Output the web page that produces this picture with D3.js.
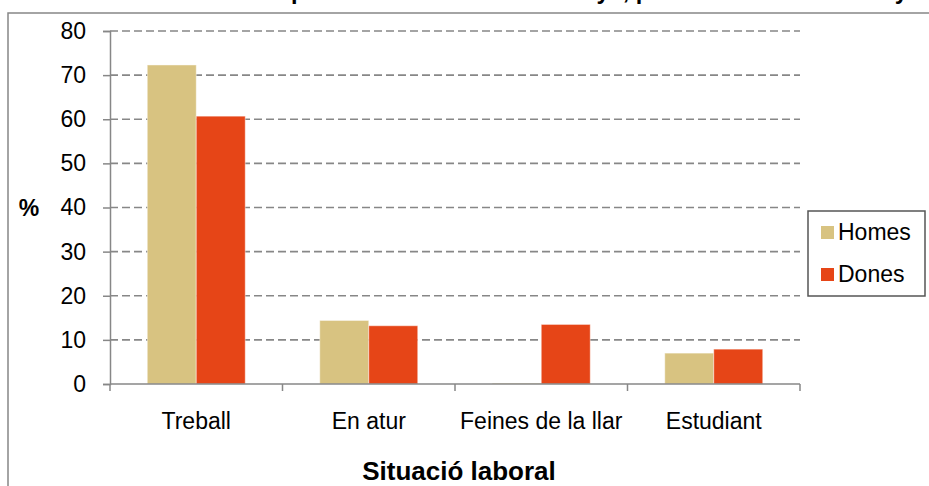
<!DOCTYPE html>
<html>
<head>
<meta charset="utf-8">
<script src="https://cdn.jsdelivr.net/npm/d3@7"></script>
<style>
  html, body { margin: 0; padding: 0; background: #fff; }
  svg { display: block; font-family: "Liberation Sans", Arial, sans-serif; }
</style>
</head>
<body>
<svg id="chart" width="929" height="486"></svg>
<script>
const titleText = "Distribució de la població total de 16 a 64 anys, per situació laboral. Any 2006";
const categories = ["Treball", "En atur", "Feines de la llar", "Estudiant"];
const seriesNames = ["Homes", "Dones"];
const homes = [72.3, 14.4, 0.2, 7.0];
const dones = [60.7, 13.2, 13.5, 7.9];
const yTicks = [0, 10, 20, 30, 40, 50, 60, 70, 80];
const xTitle = "Situació laboral";
const yTitle = "%";
const colors = ["#D8C381", "#E64517"];

const svg = d3.select("#chart");
const gray = "#878787";

// outer frame (right/bottom run off the picture)
svg.append("path")
  .attr("d", "M8,490 L8,13 L935,13")
  .attr("fill", "none").attr("stroke", gray).attr("stroke-width", 1.5);

// clipped title (only descenders visible)
const title = svg.append("text")
  .attr("y", -1.2)
  .attr("font-size", 23.5).attr("font-weight", "bold").attr("fill", "#000")
  .text(titleText);
try {
  const node = title.node();
  title.attr("x", 0);
  const idx = titleText.indexOf("població");
  const px = node.getStartPositionOfChar(idx).x;
  title.attr("x", 291 - px);
} catch (e) {
  title.attr("x", 0);
}

const x0 = d3.scaleBand().domain(categories).range([110, 800])
  .paddingInner(0.432).paddingOuter(0.216);
const x1 = d3.scaleBand().domain(seriesNames).range([0, x0.bandwidth()]);
const y = d3.scaleLinear().domain([0, 80]).range([384, 31]);

// gridlines
svg.append("g").selectAll("line")
  .data(yTicks.filter(d => d > 0))
  .join("line")
  .attr("x1", 110).attr("x2", 800)
  .attr("y1", d => y(d)).attr("y2", d => y(d))
  .attr("stroke", gray).attr("stroke-width", 1.6)
  .attr("stroke-dasharray", "8,4");

// bars
const data = categories.map((c, i) => ({cat: c, vals: [homes[i], dones[i]]}));
const groups = svg.append("g").selectAll("g")
  .data(data).join("g")
  .attr("transform", d => `translate(${x0(d.cat)},0)`);
groups.selectAll("rect")
  .data(d => d.vals.map((v, j) => ({name: seriesNames[j], v, j})))
  .join("rect")
  .attr("x", d => x1(d.name))
  .attr("width", x1.bandwidth())
  .attr("y", d => y(d.v))
  .attr("height", d => y(0) - y(d.v))
  .attr("fill", d => colors[d.j])
  .attr("stroke", "#ffffff").attr("stroke-opacity", 0.45).attr("stroke-width", 1);

// y axis
const yAxis = d3.axisLeft(y).tickValues(yTicks).tickSize(7).tickPadding(17);
const gy = svg.append("g").attr("transform", "translate(110,0)").call(yAxis);
gy.select(".domain").attr("stroke", gray).attr("stroke-width", 1.5);
gy.selectAll(".tick line").attr("stroke", gray).attr("stroke-width", 1.5);
gy.selectAll(".tick text").attr("font-size", 23).attr("fill", "#000")
  .attr("font-family", "Liberation Sans, Arial, sans-serif");

// x axis
const xTickPositions = [110].concat(categories.map(c => x0(c) + x0.bandwidth() / 2 + x0.step() / 2));
svg.append("line").attr("x1", 110).attr("x2", 800).attr("y1", 384).attr("y2", 384)
  .attr("stroke", gray).attr("stroke-width", 1.5);
svg.append("g").selectAll("line").data(xTickPositions).join("line")
  .attr("x1", d => d).attr("x2", d => d).attr("y1", 384).attr("y2", 391)
  .attr("stroke", gray).attr("stroke-width", 1.5);
svg.append("g").selectAll("text").data(categories).join("text")
  .attr("x", d => x0(d) + x0.bandwidth() / 2)
  .attr("y", 429)
  .attr("text-anchor", "middle")
  .attr("font-size", 23).attr("fill", "#000")
  .text(d => d);

// axis titles
svg.append("text").attr("x", 459).attr("y", 480).attr("text-anchor", "middle")
  .attr("font-size", 26).attr("font-weight", "bold").attr("fill", "#000").text(xTitle);
svg.append("text").attr("x", 29).attr("y", 216).attr("text-anchor", "middle")
  .attr("font-size", 23).attr("font-weight", "bold").attr("fill", "#000").text(yTitle);

// legend
const lg = svg.append("g");
lg.append("rect").attr("x", 808).attr("y", 211).attr("width", 117).attr("height", 85)
  .attr("fill", "#fff").attr("stroke", "#555").attr("stroke-width", 1.5);
const items = lg.selectAll("g").data(seriesNames).join("g")
  .attr("transform", (d, i) => `translate(821,${226 + i * 42})`);
items.append("rect").attr("width", 13).attr("height", 13)
  .attr("fill", (d, i) => colors[i]);
items.append("text").attr("x", 17).attr("y", 14)
  .attr("font-size", 23).attr("fill", "#000").text(d => d);
</script>
</body>
</html>
